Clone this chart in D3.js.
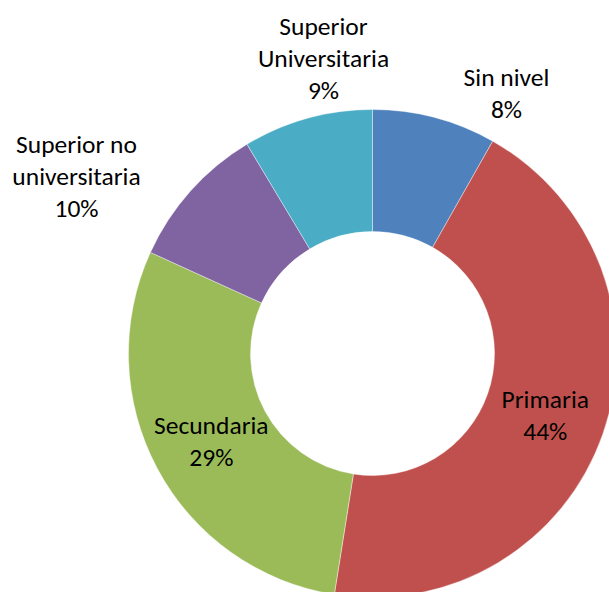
<!DOCTYPE html>
<html>
<head>
<meta charset="utf-8">
<script src="https://cdn.jsdelivr.net/npm/d3@7"></script>
<style>
  html, body { margin: 0; padding: 0; background: #ffffff; }
  svg { display: block; }
  text { font-family: Carlito, Calibri, Lato, "Open Sans", sans-serif; fill: #000; }
</style>
</head>
<body>
<svg id="chart" width="609" height="592"></svg>
<script>
// ---- data ----
const categories = ["Sin nivel", "Primaria", "Secundaria", "Superior no universitaria", "Superior Universitaria"];
const values = [8.2, 44.3, 29.3, 9.6, 8.6];
const labelLines = [["Sin nivel"], ["Primaria"], ["Secundaria"], ["Superior no", "universitaria"], ["Superior", "Universitaria"]];
const colors = ["#4F81BD", "#C0504D", "#9BBB59", "#8064A2", "#4BACC6"];

// ---- layout ----
const W = 609, H = 592;
const cx = 372.5, cy = 353.5;
const outerR = 244, innerR = 122;
const fontSize = 25.5, lineH = 32;
// outside label anchors (center x, first-line baseline) relative to chart center; null = inside (centroid)
const outsideAnchors = [[134, -268], null, null, [-296, -201], [-49, -319]];

const svg = d3.select("#chart");
const g = svg.append("g").attr("transform", `translate(${cx},${cy})`);

const pie = d3.pie().sort(null).value(d => d);
const arcs = pie(values);
const arc = d3.arc().innerRadius(innerR).outerRadius(outerR);

g.selectAll("path.slice")
  .data(arcs)
  .enter().append("path")
  .attr("class", "slice")
  .attr("d", arc)
  .attr("fill", (d, i) => colors[i])
  .attr("stroke", "#ffffff")
  .attr("stroke-width", 0.4);

const total = d3.sum(values);
const fmt = v => Math.round(v / total * 100) + "%";

arcs.forEach((d, i) => {
  const lines = labelLines[i].concat([fmt(values[i])]);
  let x, y0;
  if (outsideAnchors[i]) {
    x = outsideAnchors[i][0];
    y0 = outsideAnchors[i][1];
  } else {
    const c = arc.centroid(d);
    x = c[0];
    y0 = c[1] - (lines.length - 1) * lineH / 2 + fontSize * 0.38;
  }
  const t = g.append("text")
    .attr("text-anchor", "middle")
    .attr("font-size", fontSize);
  lines.forEach((ln, k) => {
    t.append("tspan").attr("x", x).attr("y", y0 + k * lineH).text(ln);
  });
});
</script>
</body>
</html>
